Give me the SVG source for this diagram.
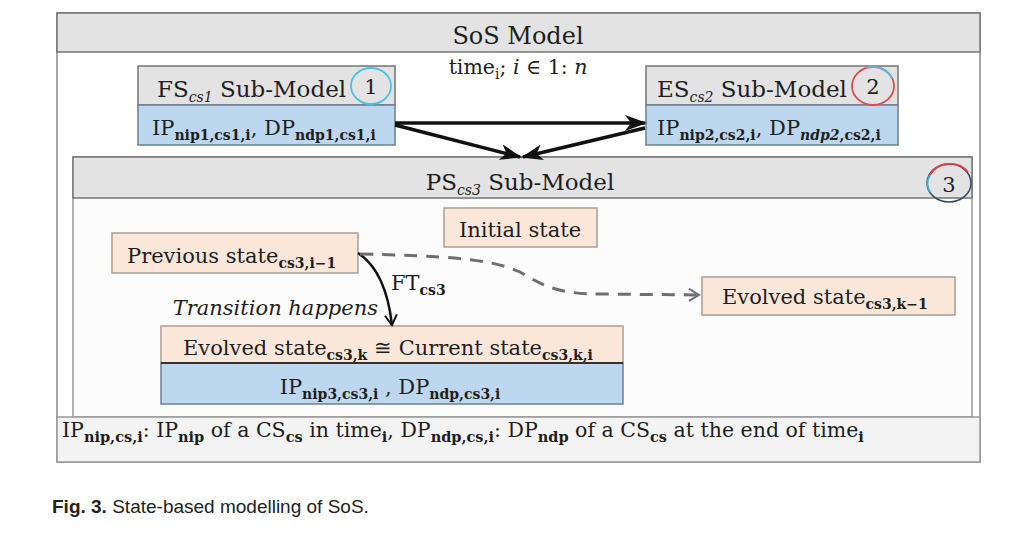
<svg xmlns="http://www.w3.org/2000/svg" width="1025" height="539" viewBox="0 0 1025 539">
<style>
.t{font-family:"DejaVu Serif","Liberation Serif",serif;fill:#1e1e1e}
.h{font-size:23px}
.m{font-size:21px}
.f{font-size:20.5px}
.s{font-size:14px}
.fs{font-size:14.5px}
.b{font-weight:bold}
.i{font-style:italic}
.hdr{fill:#e3e3e3;stroke:#747474;stroke-width:1.5}
.blue{fill:#bdd7ee;stroke:#6d7f93;stroke-width:1.5}
.peach{fill:#fbe7da;stroke:#a89e97;stroke-width:1.5}
.con{fill:none;stroke:#111;stroke-width:3.5}
.dash{fill:none;stroke:#6e6e6e;stroke-width:3;stroke-dasharray:13 9}
</style>
<defs>
<marker id="ah" markerUnits="userSpaceOnUse" markerWidth="22" markerHeight="16" refX="20" refY="8" orient="auto">
<path d="M0,0 L22,8 L0,16 L6,8 z" fill="#111"/>
</marker>
<marker id="ao" markerUnits="userSpaceOnUse" markerWidth="14" markerHeight="14" refX="12" refY="7" orient="auto">
<path d="M2,1 L12,7 L2,13" fill="none" stroke="#111" stroke-width="2"/>
</marker>
<marker id="ag" markerUnits="userSpaceOnUse" markerWidth="14" markerHeight="14" refX="12" refY="7" orient="auto">
<path d="M2,1 L12,7 L2,13" fill="none" stroke="#6e6e6e" stroke-width="2"/>
</marker>
</defs>
<rect width="1025" height="539" fill="#ffffff"/>
<g id="sos-model">
<rect x="57" y="13" width="923" height="449" fill="#ffffff" stroke="#888" stroke-width="1.5"/>
<rect x="57" y="13" width="923" height="39" class="hdr"/>
<text x="518" y="44" class="t" font-size="24" text-anchor="middle">SoS Model</text>
<text x="518" y="74" class="t f" text-anchor="middle">time<tspan class="s" dy="5">i</tspan><tspan dy="-5">; </tspan><tspan class="i">i</tspan> ∈ 1: <tspan class="i">n</tspan></text>
</g>
<g id="ps-model">
<rect x="73" y="157" width="899" height="260" fill="#fcfcfc" stroke="#999" stroke-width="1.5"/>
<rect x="73" y="157" width="899" height="41" class="hdr"/>
<text x="520" y="190" class="t h" text-anchor="middle">PS<tspan class="s i" dy="5">cs3</tspan><tspan dy="-5"> Sub-Model</tspan></text>
<ellipse cx="949" cy="183" rx="22" ry="19" fill="none" stroke="#3a4a66" stroke-width="1.5"/>
<path d="M930,175 A22,19 0 0,1 968,172" fill="none" stroke="#e0404a" stroke-width="1.8"/>
<path d="M930,192 A22,19 0 0,1 930,175" fill="none" stroke="#40b0e0" stroke-width="1.8"/>
<text x="949" y="192" class="t m" text-anchor="middle">3</text>
</g>
<g id="fs-model">
<rect x="138" y="66" width="257" height="39" class="hdr"/>
<rect x="138" y="105" width="257" height="40" class="blue"/>
<text x="157" y="97" class="t h">FS<tspan class="s i" dy="5">cs1</tspan><tspan dy="-5"> Sub-Model</tspan></text>
<ellipse cx="371" cy="86" rx="20" ry="18" fill="none" stroke="#4cc0e6" stroke-width="1.8"/>
<text x="371" y="94" class="t m" text-anchor="middle">1</text>
<text x="152" y="135" class="t m">IP<tspan class="s b" dy="5">nip1,cs1,i</tspan><tspan dy="-5">, DP</tspan><tspan class="s b" dy="5">ndp1,cs1,i</tspan></text>
</g>
<g id="es-model">
<rect x="646" y="66" width="252" height="39" class="hdr"/>
<rect x="646" y="105" width="252" height="40" class="blue"/>
<text x="657" y="97" class="t h">ES<tspan class="s i" dy="5">cs2</tspan><tspan dy="-5"> Sub-Model</tspan></text>
<ellipse cx="873" cy="86" rx="21" ry="19" fill="none" stroke="#e04a52" stroke-width="1.8"/>
<path d="M866,68 A21,19 0 0,1 892,78" fill="none" stroke="#4cc0e6" stroke-width="1.8"/>
<text x="873" y="94" class="t m" text-anchor="middle">2</text>
<text x="657" y="135" class="t m">IP<tspan class="s b" dy="5">nip2,cs2,i</tspan><tspan dy="-5">,  DP</tspan><tspan class="s b i" dy="5">ndp2</tspan><tspan class="s b">,cs2,i</tspan></text>
</g>
<g id="initial-state">
<rect x="444" y="208" width="153" height="39" class="peach"/>
<text x="520" y="237" class="t m" text-anchor="middle">Initial state</text>
</g>
<g id="previous-state">
<rect x="112" y="233" width="246" height="40" class="peach"/>
<text x="127" y="263" class="t m">Previous state<tspan class="s b" dy="5">cs3,i−1</tspan></text>
</g>
<g id="evolved-state-k-1">
<rect x="702" y="277" width="253" height="38" class="peach"/>
<text x="722" y="304" class="t m">Evolved state<tspan class="s b" dy="5">cs3,k−1</tspan></text>
</g>
<g id="current-state">
<rect x="161" y="326" width="462" height="37" class="peach"/>
<rect x="161" y="363" width="462" height="41" class="blue"/>
<line x1="161" y1="363" x2="623" y2="363" stroke="#333" stroke-width="2"/>
<text x="183" y="355" class="t m">Evolved state<tspan class="s b" dy="5">cs3,k</tspan><tspan dy="-5"> ≅ Current state</tspan><tspan class="s b" dy="5">cs3,k,i</tspan></text>
<text x="390" y="394" class="t m" text-anchor="middle">IP<tspan class="s b" dy="5">nip3,cs3,i</tspan><tspan dy="-5"> , DP</tspan><tspan class="s b" dy="5">ndp,cs3,i</tspan></text>
</g>
<g id="legend">
<rect x="57" y="417" width="923" height="45" fill="#f3f3f3" stroke="#999" stroke-width="1.5"/>
<text x="62" y="437" class="t f">IP<tspan class="fs b" dy="5">nip,cs,i</tspan><tspan dy="-5">: IP</tspan><tspan class="fs b" dy="5">nip</tspan><tspan dy="-5"> of a CS</tspan><tspan class="fs b" dy="5">cs</tspan><tspan dy="-5"> in time</tspan><tspan class="fs b" dy="5">i</tspan><tspan dy="-5">, DP</tspan><tspan class="fs b" dy="5">ndp,cs,i</tspan><tspan dy="-5">: DP</tspan><tspan class="fs b" dy="5">ndp</tspan><tspan dy="-5"> of a CS</tspan><tspan class="fs b" dy="5">cs</tspan><tspan dy="-5"> at the end of time</tspan><tspan class="fs b" dy="5">i</tspan></text>
</g>
<g id="connectors">
<line x1="395" y1="123" x2="645" y2="123" class="con" marker-end="url(#ah)"/>
<line x1="395" y1="125" x2="520" y2="157" class="con" marker-end="url(#ah)"/>
<line x1="645" y1="128" x2="523" y2="157" class="con" marker-end="url(#ah)"/>
<path d="M358,253 C378,266 388,290 392,325" fill="none" stroke="#111" stroke-width="2.5" marker-end="url(#ao)"/>
<path d="M360,254 C440,256 490,258 520,272 C545,287 560,294 600,294 L699,295" class="dash" marker-end="url(#ag)"/>
<text x="391" y="290" class="t m">FT<tspan class="s b" dy="5">cs3</tspan></text>
<text x="378" y="315" class="t m i" text-anchor="end">Transition happens</text>
</g>
<text x="52" y="513" font-family="Liberation Sans, Arial, sans-serif" font-size="19" fill="#222"><tspan font-weight="bold">Fig. 3.</tspan> State-based modelling of SoS.</text>
</svg>
